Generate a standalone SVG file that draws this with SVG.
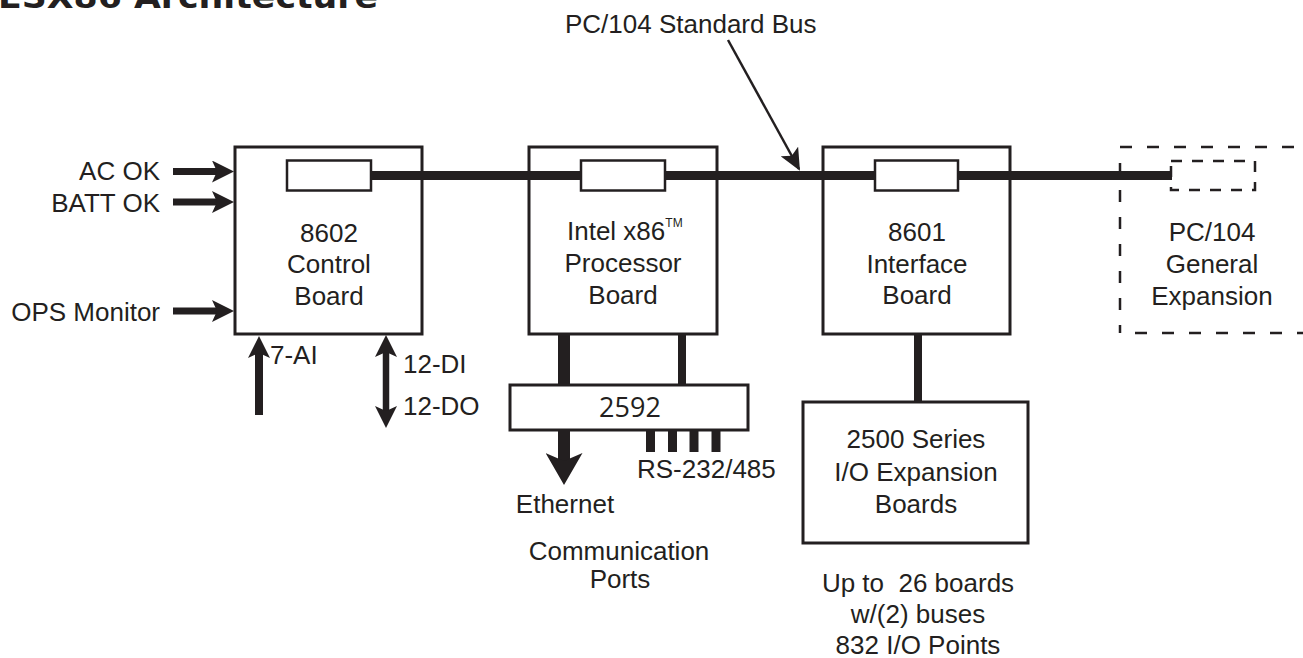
<svg xmlns="http://www.w3.org/2000/svg" width="1303" height="658" viewBox="0 0 1303 658">
<style>
text{font-family:"Liberation Sans",Arial,sans-serif;font-size:26px;fill:#231f20}
.c{text-anchor:middle}
.e{text-anchor:end}
.box{fill:#fff;stroke:#231f20;stroke-width:3}
.slot{fill:#fff;stroke:#231f20;stroke-width:2.5}
.dash{fill:none;stroke:#231f20;stroke-width:2.5;stroke-dasharray:12 15}
.dash2{fill:none;stroke:#231f20;stroke-width:2.5;stroke-dasharray:11 10}
.bus{stroke:#231f20;stroke-width:9}
.thick{stroke:#231f20;fill:none}
.title{font-family:"DejaVu Sans",sans-serif;font-weight:bold;font-size:32px}
.n2592{font-family:"Open Sans",sans-serif;font-size:27px}
</style>
<defs>
<marker id="ah" viewBox="0 0 22 22" refX="10" refY="11" markerWidth="22" markerHeight="22" markerUnits="userSpaceOnUse" orient="auto-start-reverse">
<path d="M0,0 L22,11 L0,22 L5,11 Z" fill="#231f20"/>
</marker>
<marker id="big" viewBox="0 0 32 37" refX="14" refY="18.5" markerWidth="32" markerHeight="37" markerUnits="userSpaceOnUse" orient="auto">
<path d="M0,0 L32,18.5 L0,37 L8,18.5 Z" fill="#231f20"/>
</marker>
<marker id="thin" viewBox="0 0 22 20" refX="20" refY="10" markerWidth="22" markerHeight="20" markerUnits="userSpaceOnUse" orient="auto">
<path d="M0,0 L22,10 L0,20 L5,10 Z" fill="#231f20"/>
</marker>
</defs>

<text class="title" x="-2" y="8" textLength="380" lengthAdjust="spacingAndGlyphs">ESX86 Architecture</text>

<g id="control">
<rect class="box" x="235" y="147" width="187" height="187"/>
<rect class="slot" x="287" y="160.5" width="84" height="30"/>
<text class="c" x="329" y="242">8602</text>
<text class="c" x="329" y="273">Control</text>
<text class="c" x="329" y="305">Board</text>
</g>

<g id="processor">
<rect class="box" x="529" y="147" width="188" height="187"/>
<rect class="slot" x="581" y="160.5" width="84" height="30"/>
<text x="567" y="240">Intel x86<tspan font-size="12" dy="-13">TM</tspan></text>
<text class="c" x="623" y="272">Processor</text>
<text class="c" x="623" y="304">Board</text>
</g>

<g id="interface">
<rect class="box" x="823" y="147" width="187" height="187"/>
<rect class="slot" x="875" y="160.5" width="83" height="30"/>
<text class="c" x="917" y="241">8601</text>
<text class="c" x="917" y="273">Interface</text>
<text class="c" x="917" y="304">Board</text>
</g>

<g id="pc104">
<path class="dash" d="M1120,147 H1310"/>
<path class="dash" d="M1120,163 V333"/>
<path class="dash" d="M1135,333 H1310"/>
<rect class="dash2" x="1171" y="161" width="84" height="29"/>
<text class="c" x="1212" y="241">PC/104</text>
<text class="c" x="1212" y="273">General</text>
<text class="c" x="1212" y="305">Expansion</text>
</g>

<g id="comm2592">
<rect class="box" x="510" y="385" width="238" height="45"/>
<text class="c n2592" x="630" y="417">2592</text>
</g>

<g id="io2500">
<rect class="box" x="803" y="402" width="225" height="141"/>
<text class="c" x="916" y="448">2500 Series</text>
<text class="c" x="916" y="481">I/O Expansion</text>
<text class="c" x="916" y="513">Boards</text>
</g>

<g id="connectors">
<line class="bus" x1="371" y1="175.5" x2="581" y2="175.5"/>
<line class="bus" x1="665" y1="175.5" x2="875" y2="175.5"/>
<line class="bus" x1="958" y1="175.5" x2="1172" y2="175.5"/>
<line class="thick" stroke-width="2.5" x1="728" y1="40" x2="799" y2="169" marker-end="url(#thin)"/>
<line class="thick" stroke-width="7" x1="173" y1="171.5" x2="222" y2="171.5" marker-end="url(#ah)"/>
<line class="thick" stroke-width="7" x1="173" y1="202" x2="222" y2="202" marker-end="url(#ah)"/>
<line class="thick" stroke-width="7" x1="173" y1="311" x2="222" y2="311" marker-end="url(#ah)"/>
<line class="thick" stroke-width="8" x1="259" y1="415" x2="259" y2="348" marker-end="url(#ah)"/>
<line class="thick" stroke-width="6.5" x1="386" y1="416" x2="386" y2="347" marker-start="url(#ah)" marker-end="url(#ah)"/>
<line class="thick" stroke-width="12" x1="564" y1="334" x2="564" y2="385"/>
<line class="thick" stroke-width="8" x1="682" y1="334" x2="682" y2="385"/>
<line class="thick" stroke-width="12" x1="564" y1="430" x2="564" y2="467" marker-end="url(#big)"/>
<line class="thick" stroke-width="9" x1="650.5" y1="430" x2="650.5" y2="452"/>
<line class="thick" stroke-width="9" x1="672.5" y1="430" x2="672.5" y2="452"/>
<line class="thick" stroke-width="9" x1="694" y1="430" x2="694" y2="452"/>
<line class="thick" stroke-width="9" x1="716" y1="430" x2="716" y2="452"/>
<line class="thick" stroke-width="8" x1="918" y1="334" x2="918" y2="402"/>
</g>

<g id="labels">
<text x="565" y="33">PC/104 Standard Bus</text>
<text class="e" x="160" y="180">AC OK</text>
<text class="e" x="160" y="211.5">BATT OK</text>
<text class="e" x="160" y="321">OPS Monitor</text>
<text x="270" y="364">7-AI</text>
<text x="403" y="373">12-DI</text>
<text x="403" y="415">12-DO</text>
<text x="637" y="478">RS-232/485</text>
<text class="c" x="565" y="513">Ethernet</text>
<text class="c" x="619" y="560">Communication</text>
<text class="c" x="620" y="588">Ports</text>
<text class="c" x="918" y="592" xml:space="preserve">Up to  26 boards</text>
<text class="c" x="918" y="623">w/(2) buses</text>
<text class="c" x="918" y="654">832 I/O Points</text>
</g>
</svg>
